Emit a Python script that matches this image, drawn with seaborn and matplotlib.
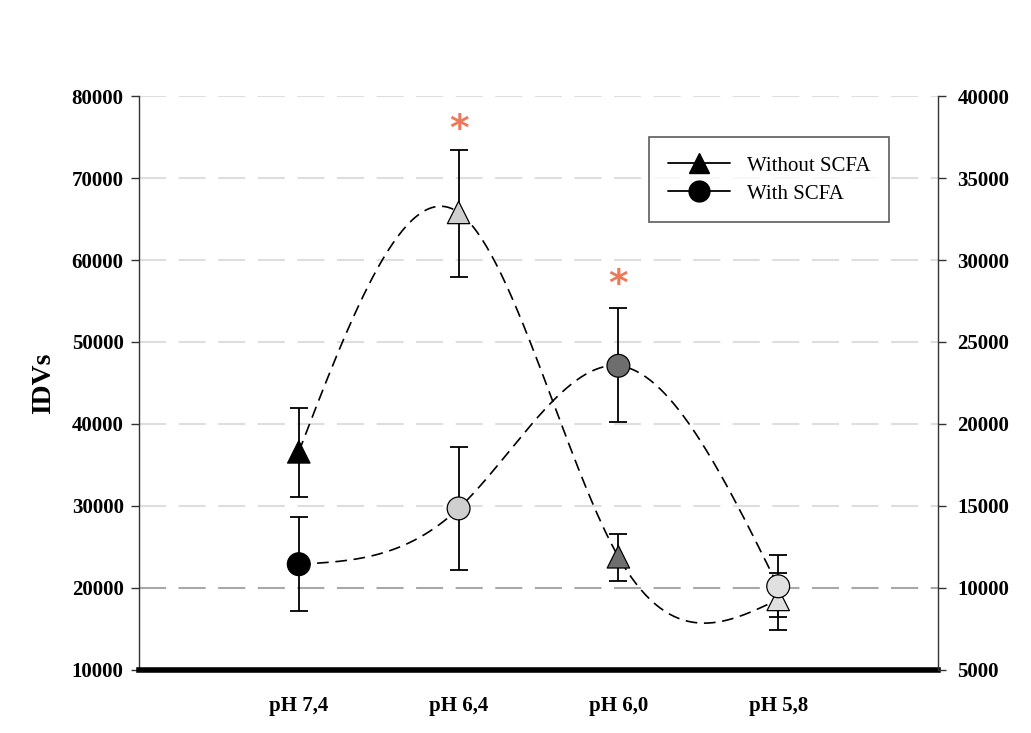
import numpy as np
import pandas as pd
import matplotlib
matplotlib.use("Agg")
import matplotlib.pyplot as plt
import seaborn as sb
from matplotlib.lines import Line2D

# data
ph_labels = ["pH 7,4", "pH 6,4", "pH 6,0", "pH 5,8"]
without_scfa = [36600, 65800, 23800, 18600]
without_lo = [31100, 57900, 20900, 16500]
without_hi = [41900, 73400, 26600, 21800]
with_scfa = [22900, 29700, 47100, 20200]
with_lo = [17200, 22200, 40200, 14900]
with_hi = [28600, 37200, 54200, 24000]
# marker fill for each pH point
fill_cols = ["#000000", "#cfcfcf", "#6e6e6e", "#e0e0e0"]
# significance markers
star_pos = [1, 2]
star_y = [75900, 56900]

xs = np.arange(1, len(ph_labels) + 1)


def natural_spline(x, y, n=200):
    # natural cubic spline for the smooth connecting curve
    x = np.asarray(x, float); y = np.asarray(y, float)
    k = len(x); h = np.diff(x)
    A = np.zeros((k, k)); b = np.zeros(k)
    A[0, 0] = A[-1, -1] = 1
    for i in range(1, k - 1):
        A[i, i - 1] = h[i - 1]; A[i, i] = 2 * (h[i - 1] + h[i]); A[i, i + 1] = h[i]
        b[i] = 3 * ((y[i + 1] - y[i]) / h[i] - (y[i] - y[i - 1]) / h[i - 1])
    c = np.linalg.solve(A, b)
    xx = np.linspace(x[0], x[-1], n); yy = np.zeros(n)
    for j, t in enumerate(xx):
        i = min(np.searchsorted(x, t, side="right") - 1, k - 2)
        d = t - x[i]
        bb = (y[i + 1] - y[i]) / h[i] - h[i] * (2 * c[i] + c[i + 1]) / 3
        dd = (c[i + 1] - c[i]) / (3 * h[i])
        yy[j] = y[i] + bb * d + c[i] * d ** 2 + dd * d ** 3
    return xx, yy


sb.set_style("white")
plt.rcParams["font.family"] = ["Liberation Serif", "DejaVu Serif"]
plt.rcParams["text.color"] = "black"
plt.rcParams["axes.labelcolor"] = "black"
plt.rcParams["xtick.color"] = "black"
plt.rcParams["ytick.color"] = "black"

fig = plt.figure(figsize=(10.31, 7.33), dpi=100)
ax = fig.add_axes([0.1348, 0.086, 0.775, 0.783])

# grid lines
for gy in range(20000, 80001, 10000):
    col = "#a8a8a8" if gy == 20000 else "#dedede"
    ax.axhline(gy, color=col, lw=1.5, dashes=(13, 6), zorder=0)

curves = []
for name, vals in [("Without SCFA", without_scfa), ("With SCFA", with_scfa)]:
    sx, sy = natural_spline(xs, vals)
    curves.append(pd.DataFrame({"x": sx, "y": sy, "series": name}))
curve_df = pd.concat(curves)
sb.lineplot(data=curve_df, x="x", y="y", units="series", estimator=None,
            color="black", lw=1.2, dashes=False, ax=ax, legend=False,
            linestyle=(0, (7, 4)), zorder=2)

for vals, lo, hi, mk, sz in [(without_scfa, without_lo, without_hi, "^", 260),
                             (with_scfa, with_lo, with_hi, "o", 270)]:
    vals = np.array(vals)
    ax.errorbar(xs, vals, yerr=[vals - np.array(lo), np.array(hi) - vals],
                fmt="none", ecolor="black", elinewidth=1.3, capsize=6.5,
                capthick=1.3, zorder=3)
    pts = pd.DataFrame({"x": xs, "y": vals, "c": fill_cols})
    sb.scatterplot(data=pts, x="x", y="y", marker=mk, s=sz, c=pts["c"],
                   edgecolor="black", linewidth=0.9, ax=ax, zorder=4)

for sx_, sy_ in zip(star_pos, star_y):
    ax.text(xs[sx_], sy_, "*", color="#ec7a5a", fontsize=27, ha="center",
            va="center", fontfamily="DejaVu Sans", fontweight="bold")

ax.set_xlim(0, 5)
ax.set_ylim(10000, 80000)
ax.set_xticks(xs)
ax.set_xticklabels(ph_labels, fontsize=15, fontweight="bold")
ax.set_yticks(range(10000, 80001, 10000))
ax.set_yticklabels([str(v) for v in range(10000, 80001, 10000)],
                   fontsize=15, fontweight="bold")
ax.tick_params(axis="x", length=0, pad=19)
ax.tick_params(axis="y", length=6, width=1, color="#333333", direction="out",
               left=True, pad=5)
ax.set_xlabel("")
ax.set_ylabel("IDVs", fontsize=20, fontweight="bold", labelpad=11)

ax.spines["top"].set_visible(False)
ax.spines["right"].set_visible(False)
ax.spines["left"].set_color("#333333")
ax.spines["left"].set_linewidth(1)
ax.spines["bottom"].set_color("black")
ax.spines["bottom"].set_linewidth(4)

ax2 = ax.twinx()
ax2.set_ylim(5000, 40000)
ax2.set_yticks(range(5000, 40001, 5000))
ax2.set_yticklabels([str(v) for v in range(5000, 40001, 5000)],
                    fontsize=15, fontweight="bold")
ax2.tick_params(axis="y", length=6, width=1, color="#333333", direction="out",
                right=True, pad=8)
for s in ["top", "left", "bottom"]:
    ax2.spines[s].set_visible(False)
ax2.spines["right"].set_color("#333333")
ax2.spines["right"].set_linewidth(1)
ax2.grid(False)

handles = [Line2D([0], [0], color="black", lw=1.3, linestyle="-",
                  marker="^", markersize=14, markerfacecolor="black"),
           Line2D([0], [0], color="black", lw=1.3, linestyle="-",
                  marker="o", markersize=15, markerfacecolor="black")]
leg = ax.legend(handles, ["Without SCFA", "With SCFA"], loc="upper left",
                bbox_to_anchor=(0.638, 0.928), fontsize=15, frameon=True,
                fancybox=False, edgecolor="#333333", handlelength=3,
                borderpad=0.9, labelspacing=0.4, handletextpad=0.8,
                borderaxespad=0)
leg.get_frame().set_linewidth(1.2)

fig.savefig("out.png", dpi=100)
